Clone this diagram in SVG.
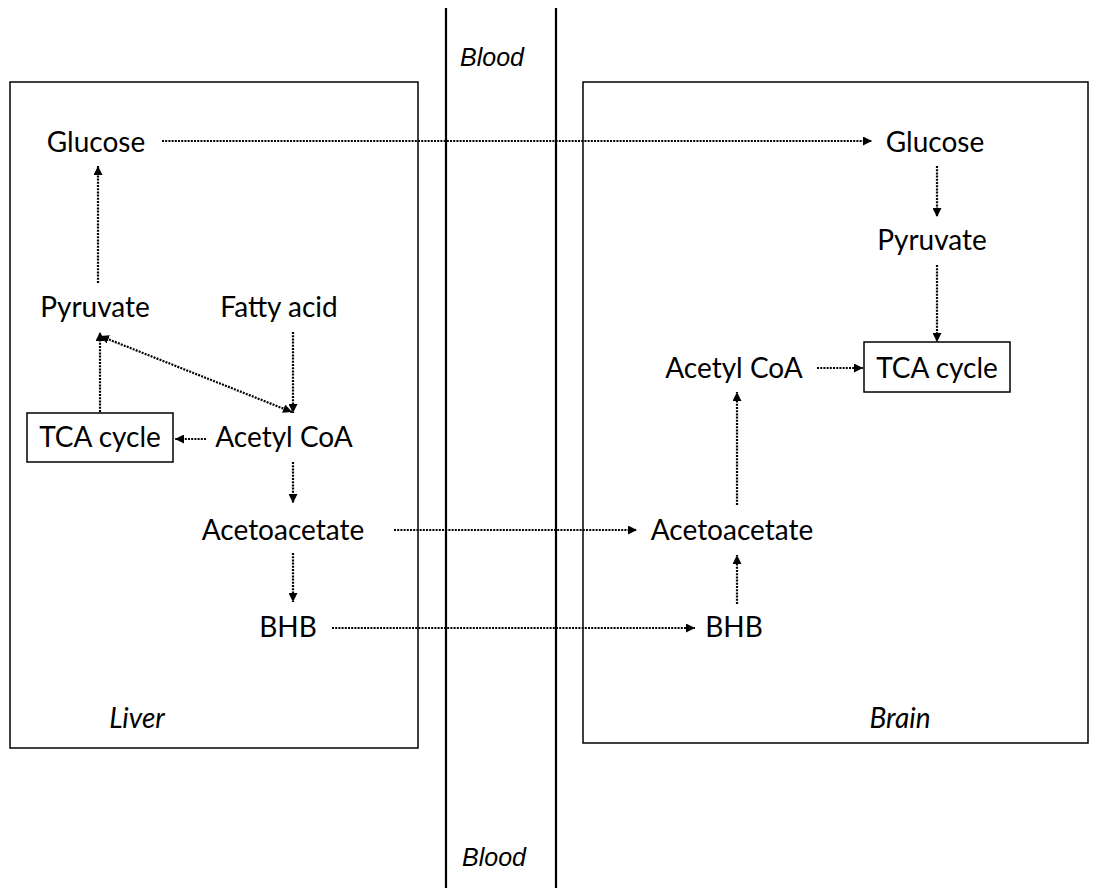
<svg xmlns="http://www.w3.org/2000/svg" width="1096" height="893" viewBox="0 0 1096 893">
  <style>
    .box { fill: none; stroke: #000; stroke-width: 1.5; }
    .wall { stroke: #000; stroke-width: 2.2; }
    .lbl { font-family: Lato, "Open Sans", sans-serif; font-size: 28px; fill: #000; text-anchor: middle; }
    .it { font-family: Lato, "Open Sans", sans-serif; font-style: italic; font-size: 28px; fill: #000; text-anchor: middle; }
    .blood { font-family: "Liberation Sans", Arial, sans-serif; font-style: italic; font-size: 25px; fill: #000; text-anchor: middle; }
    .flow { fill: none; stroke: #000; stroke-width: 2.2; stroke-dasharray: 2 1.2; }
  </style>
  <defs>
    <marker id="tip" viewBox="0 0 10 10" refX="10" refY="5" markerWidth="9" markerHeight="9" markerUnits="userSpaceOnUse" orient="auto">
      <path d="M0,0 L10,5 L0,10 Z" fill="#000"/>
    </marker>
    <marker id="tail" viewBox="0 0 10 10" refX="0" refY="5" markerWidth="9" markerHeight="9" markerUnits="userSpaceOnUse" orient="auto">
      <path d="M10,0 L0,5 L10,10 Z" fill="#000"/>
    </marker>
  </defs>

  <!-- blood compartment walls -->
  <g id="blood">
    <line class="wall" x1="446" y1="8" x2="446" y2="888"/>
    <line class="wall" x1="556" y1="8" x2="556" y2="888"/>
    <text class="blood" x="492" y="66">Blood</text>
    <text class="blood" x="494" y="866">Blood</text>
  </g>

  <!-- liver compartment -->
  <g id="liver">
    <rect class="box" x="10" y="82" width="408" height="666"/>
    <text class="it" x="137" y="728">Liver</text>
  </g>
  <g id="liver-glucose"><text class="lbl" x="96" y="152">Glucose</text></g>
  <g id="liver-pyruvate"><text class="lbl" x="95" y="317">Pyruvate</text></g>
  <g id="liver-fatty-acid"><text class="lbl" x="279" y="317">Fatty acid</text></g>
  <g id="liver-tca">
    <rect class="box" x="27" y="413" width="146" height="49"/>
    <text class="lbl" x="100" y="447">TCA cycle</text>
  </g>
  <g id="liver-acetyl-coa"><text class="lbl" x="284" y="447">Acetyl CoA</text></g>
  <g id="liver-acetoacetate"><text class="lbl" x="283" y="540">Acetoacetate</text></g>
  <g id="liver-bhb"><text class="lbl" x="288" y="637">BHB</text></g>

  <!-- brain compartment -->
  <g id="brain">
    <rect class="box" x="583" y="82" width="505" height="661"/>
    <text class="it" x="900" y="728">Brain</text>
  </g>
  <g id="brain-glucose"><text class="lbl" x="935" y="152">Glucose</text></g>
  <g id="brain-pyruvate"><text class="lbl" x="932" y="250">Pyruvate</text></g>
  <g id="brain-tca">
    <rect class="box" x="864" y="342" width="146" height="50"/>
    <text class="lbl" x="937" y="378">TCA cycle</text>
  </g>
  <g id="brain-acetyl-coa"><text class="lbl" x="734" y="378">Acetyl CoA</text></g>
  <g id="brain-acetoacetate"><text class="lbl" x="732" y="540">Acetoacetate</text></g>
  <g id="brain-bhb"><text class="lbl" x="734" y="637">BHB</text></g>

  <!-- metabolic flows -->
  <g id="connectors">
    <line class="flow" x1="162" y1="141" x2="872" y2="141" marker-end="url(#tip)"/>
    <line class="flow" x1="98" y1="283" x2="98" y2="166" marker-end="url(#tip)"/>
    <line class="flow" x1="100" y1="412" x2="100" y2="332" marker-end="url(#tip)"/>
    <line class="flow" x1="100" y1="336" x2="292" y2="412" marker-start="url(#tail)" marker-end="url(#tip)"/>
    <line class="flow" x1="293" y1="332" x2="293" y2="413" marker-end="url(#tip)"/>
    <line class="flow" x1="206" y1="439" x2="175" y2="439" marker-end="url(#tip)"/>
    <line class="flow" x1="293" y1="462" x2="293" y2="503" marker-end="url(#tip)"/>
    <line class="flow" x1="293" y1="553" x2="293" y2="602" marker-end="url(#tip)"/>
    <line class="flow" x1="394" y1="530" x2="637" y2="530" marker-end="url(#tip)"/>
    <line class="flow" x1="332" y1="628" x2="695" y2="628" marker-end="url(#tip)"/>
    <line class="flow" x1="937" y1="166" x2="937" y2="217" marker-end="url(#tip)"/>
    <line class="flow" x1="937" y1="265" x2="937" y2="342" marker-end="url(#tip)"/>
    <line class="flow" x1="817" y1="368" x2="863" y2="368" marker-end="url(#tip)"/>
    <line class="flow" x1="737" y1="505" x2="737" y2="392" marker-end="url(#tip)"/>
    <line class="flow" x1="737" y1="604" x2="737" y2="555" marker-end="url(#tip)"/>
  </g>
</svg>
